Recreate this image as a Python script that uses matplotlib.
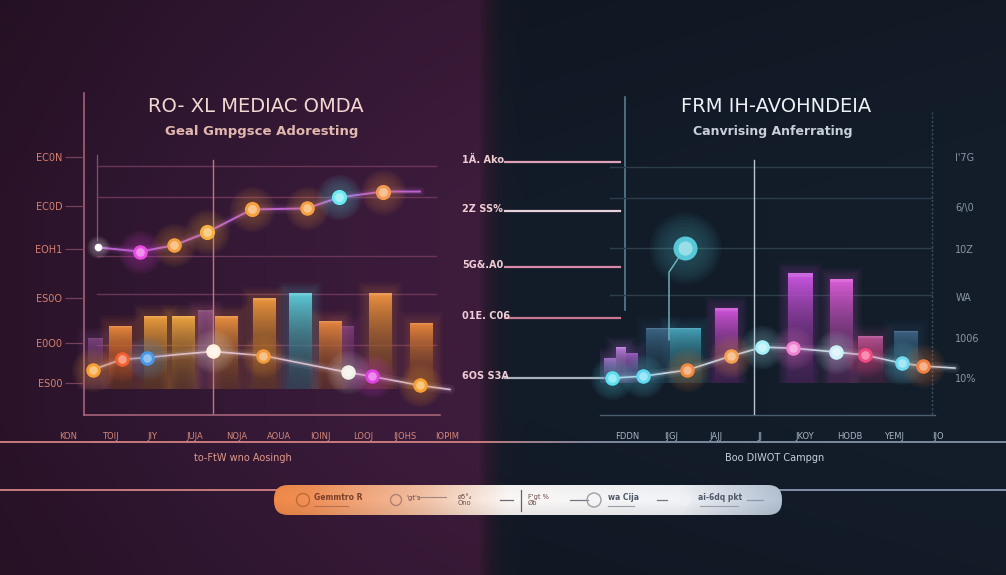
import numpy as np
import matplotlib
matplotlib.use("Agg")
import matplotlib.pyplot as plt
from matplotlib.patches import FancyBboxPatch, Circle
from matplotlib.colors import to_rgb

# ---------------- data ----------------
left_title = "RO- XL MEDIAC OMDA"
left_subtitle = "Geal Gmpgsce Adoresting"
right_title = "FRM IH-AVOHNDEIA"
right_subtitle = "Canvrising Anferrating"
left_xlabel = "to-FtW wno Aosingh"
right_xlabel = "Boo DIWOT Campgn"

left_ytick_vals = [91, 72, 55, 36, 18.4, 2.4]
left_ytick_labels = ["EC0N", "EC0D", "EOH1", "ES0O", "E0O0", "ES00"]
right_ytick_vals = [88.6, 69, 52.5, 33.7, 17.6, 2]
right_ytick_labels = ["I'7G", "6/\\0", "10Z", "WA", "1006", "10%"]
left_xtick_labels = ["KON", "TOIJ", "JIY", "JUJA", "NOJA", "AOUA", "IOINJ", "LOOJ", "IJOHS", "IOPIM"]
right_xtick_labels = ["FDDN", "IJGJ", "JAJJ", "JJ", "JKOY", "HODB", "YEMJ", "IJO"]
mid_labels = ["1\u00c4. Ako", "2Z SS%", "5G&.A0", "01E. C06", "6OS S3A"]

# left chart
left_bar_x = [1.06, 2.04, 2.80, 4.03, 5.07, 6.08, 6.92, 8.32, 9.47]
left_bar_vals = [25, 29, 29, 29, 36, 38, 27, 38, 26]
left_ghost_x = [0.34, 3.42, 7.37]
left_ghost_vals = [20, 31, 25]
left_top_x = [0.42, 1.6, 2.55, 3.47, 4.73, 6.27, 7.17, 8.4, 9.44]
left_top_vals = [55.7, 54.1, 56.5, 61.6, 70.6, 71.0, 75.3, 77.6, 77.6]
left_bot_x = [0.28, 1.09, 1.79, 2.63, 3.64, 5.04, 7.42, 8.1, 9.44, 10.28]
left_bot_vals = [7.8, 11.8, 12.5, 13.7, 14.9, 13.3, 6.7, 5.1, 1.6, 0.0]
left_grid_vals = [87.5, 75.3, 52.2, 37.3, 17.6]

# right chart
right_bar_x = [0.27, 0.63, 0.93, 1.73, 2.54, 3.76, 5.97, 7.19, 8.06, 9.13]
right_bar_vals = [10, 14, 12, 21.6, 21.6, 29.4, 43, 41, 18.4, 20.4]
right_line_x = [0.36, 1.28, 2.6, 3.91, 4.84, 5.76, 7.04, 7.91, 9.01, 9.64, 10.6]
right_line_vals = [2, 2.7, 5.1, 10.6, 14.1, 13.7, 12.2, 11, 7.8, 6.7, 5.9]
right_callout_x = [2.54, 2.06, 2.06]
right_callout_vals = [53, 43.5, 17]
right_grid_vals = [84.7, 72.5, 52.9, 34.5]

# ---------------- styles ----------------
left_bar_colors = ['#f08a3c', '#f6a43e', '#f6aa42', '#f29440', '#f39a3c', '#5fd0dc', '#ee8a40', '#f39640', '#ef8a3e']
left_ghost_colors = ['#a65aa8', '#b86aa8', '#a0509a']
left_top_colors = ['#ffffff', '#e84ce0', '#f4a040', '#f5b040', '#f4a040', '#f5a040', '#6ce8f0', '#f39850', None]
left_top_sizes = [30, 110, 110, 120, 120, 110, 120, 120, 0]
left_bot_colors = ['#f5a030', '#f06030', '#4a98e8', None, '#fff0e0', '#f39a3c', '#f0f0e8', '#e040e0', '#f5a030', None]
right_bar_colors = ['#b070d0', '#c080e0', '#a060c8', '#3e6a8a', '#48a8c0', '#d656e0', '#d058e8', '#e460e0', '#b8559a', '#3e6688']
right_bar_widths = [0.33, 0.28, 0.33, 0.7, 0.9, 0.66, 0.72, 0.66, 0.72, 0.7]
right_line_colors = ['#5ce0f0', '#60d8f0', '#f08a40', '#f5a050', '#a8f0f8', '#f080d0', '#d0f0f8', '#f04880', '#70d8f0', '#f08040', None]

W, H = 1006, 575
fig = plt.figure(figsize=(W / 100, H / 100), dpi=100)

# ---------------- background ----------------
bg = fig.add_axes([0, 0, 1, 1])
bg.set_xlim(0, W)
bg.set_ylim(H, 0)
bg.axis('off')
stops_x = [0, 200, 400, 478, 486, 502, 530, 1006]
stops_c = ['#2a1329', '#331834', '#3b1b3b', '#3d1c3c', '#2a1a2e', '#161b29', '#121b28', '#141e2b']
px = np.arange(W)
cols = np.array([to_rgb(c) for c in stops_c])
row = np.stack([np.interp(px, stops_x, cols[:, k]) for k in range(3)], axis=1)
vy = np.interp(np.arange(H), [0, 200, 420, 575], [0.87, 1.0, 1.0, 0.9])
img = row[None, :, :] * vy[:, None, None]
bg.imshow(np.clip(img, 0, 1), extent=(0, W, H, 0), aspect='auto', zorder=0)


def fig_axes(x0, y0, x1, y1):
    return fig.add_axes([x0 / W, 1 - y1 / H, (x1 - x0) / W, (y1 - y0) / H])


def lighten(c, f=0.6):
    c = np.array(to_rgb(c))
    return tuple(c + (1 - c) * f)


def gradient_bars(ax, xs, vals, colors, widths, alpha_top=0.97, alpha_bot=0.25):
    bars = ax.bar(xs, vals, width=widths, color='none', edgecolor='none', zorder=3)
    for b, c in zip(bars, colors):
        cc = np.array(to_rgb(c))
        # soft glow
        for k in np.linspace(0.6, 0.08, 6):
            ax.bar(b.get_x() + b.get_width() / 2, b.get_height() + k * 7, width=b.get_width() + k,
                   color=c, alpha=0.035, lw=0, zorder=2)
        n = 80
        t = np.linspace(1, 0, n)[:, None]
        rgb = cc[None, :] * (0.35 + 0.65 * t)
        rgb = rgb + (1 - rgb) * 0.12 * (t > 0.97)
        a = alpha_bot + (alpha_top - alpha_bot) * t
        arr = np.concatenate([rgb, a], axis=1)[:, None, :]
        im = ax.imshow(arr, extent=(b.get_x(), b.get_x() + b.get_width(), 0, b.get_height()),
                       origin='upper', aspect='auto', zorder=3)
        im.set_clip_path(b)
    return bars


def glow_line(ax, xs, ys, color, lw=1.4):
    ax.plot(xs, ys, color=color, lw=7, alpha=0.08, zorder=4, solid_capstyle='round', clip_on=False)
    ax.plot(xs, ys, color=color, lw=3.5, alpha=0.15, zorder=4, solid_capstyle='round', clip_on=False)
    ax.plot(xs, ys, color=color, lw=lw, alpha=0.9, zorder=4, solid_capstyle='round', clip_on=False)


def glow_points(ax, xs, ys, colors, sizes=None):
    if sizes is None:
        sizes = [110] * len(xs)
    for x, y, c, core in zip(xs, ys, colors, sizes):
        if c is None or core == 0:
            continue
        for f in np.linspace(9, 2.2, 7):
            ax.scatter(x, y, s=core * f, color=c, alpha=0.04, lw=0, zorder=5, clip_on=False)
        ax.scatter(x, y, s=core, color=c, lw=0, zorder=6, clip_on=False)
        ax.scatter(x, y, s=core * 0.35, color=lighten(c, 0.5), alpha=0.8, lw=0, zorder=7, clip_on=False)


def style_axes(ax):
    ax.set_facecolor('none')
    for s in ax.spines.values():
        s.set_visible(False)


# ---------------- left chart ----------------
axL = fig_axes(60, 150, 460, 415)
style_axes(axL)
axL.spines['left'].set_position(('data', 0))
for g in left_grid_vals:
    axL.plot([0.38, 9.9], [g, g], color='#7a3e60', lw=1.0, alpha=0.8, zorder=1)
gradient_bars(axL, left_ghost_x, left_ghost_vals, left_ghost_colors, 0.42, alpha_top=0.55, alpha_bot=0.12)
gradient_bars(axL, left_bar_x, left_bar_vals, left_bar_colors, 0.64)
glow_line(axL, left_top_x, left_top_vals, '#c86ae0')
glow_points(axL, left_top_x, left_top_vals, left_top_colors, left_top_sizes)
glow_line(axL, left_bot_x, left_bot_vals, '#e8c8d8', lw=1.2)
glow_points(axL, left_bot_x, left_bot_vals, left_bot_colors)
axL.axvline(3.64, 0.008, 0.962, color='#c07878', lw=1.0, zorder=4)
axL.set_xlim((60 - 83) / 35.7, (460 - 83) / 35.7)
axL.set_ylim(-10, 93.9)
axL.set_yticks(left_ytick_vals)
axL.set_yticklabels(left_ytick_labels)
axL.set_xticks(np.linspace(-0.42, 10.2, len(left_xtick_labels)))
axL.set_xticklabels(left_xtick_labels)
axL.tick_params(axis='y', colors='#74405a', length=13, width=0.9, pad=2, labelsize=7, labelcolor='#d98070')
axL.tick_params(axis='x', length=0, pad=12, labelsize=6, labelcolor='#d48878')

# ---------------- right chart ----------------
axR = fig_axes(600, 150, 940, 415)
style_axes(axR)
for g in right_grid_vals:
    axR.plot([0.3, 9.9], [g, g], color='#2c3d4c', lw=1.0, zorder=1)
gradient_bars(axR, right_bar_x, right_bar_vals, right_bar_colors, right_bar_widths)
axR.plot(right_callout_x, right_callout_vals, color='#7ab8c8', lw=1.0, zorder=4)
glow_points(axR, right_callout_x[:1], right_callout_vals[:1], ['#56c8d8'], [300])
glow_line(axR, right_line_x, right_line_vals, '#d8e6f4', lw=1.2)
glow_points(axR, right_line_x, right_line_vals, right_line_colors)
axR.axvline(4.6, 0.0, 0.962, color='#b8c4d0', lw=1.0, zorder=4)
axR.set_xlim(0, (940 - 600) / 33.5)
axR.set_ylim(-12.5, 91.4)
axR.yaxis.tick_right()
axR.set_yticks(right_ytick_vals)
axR.set_yticklabels(right_ytick_labels)
axR.set_xticks(np.linspace(0.8, 10.1, len(right_xtick_labels)))
axR.set_xticklabels(right_xtick_labels)
axR.tick_params(axis='y', colors='#3a4a5a', length=0, pad=11, labelsize=7, labelcolor='#8a96a6')
axR.tick_params(axis='x', length=0, pad=12, labelsize=6, labelcolor='#a8b4c4')

# ---------------- structural decoration (pixel coords) ----------------
lc = '#b06a7e'
bg.plot([84, 84], [93, 415], color=lc, lw=1.1, zorder=2)
bg.plot([97, 97], [155, 240], color='#8a4e6a', lw=0.9, zorder=2)
bg.plot([84, 440], [415, 415], color=lc, lw=1.1, zorder=2)
bg.plot([625, 625], [97, 310], color='#5a8898', lw=1.1, zorder=2)
bg.plot([600, 935], [415, 415], color='#4a5e70', lw=1.0, zorder=2)
bg.plot([932, 932], [112, 415], color='#3e5060', lw=1.0, ls=(0, (1.5, 1.5)), zorder=2)

# middle label lines
mid_y = [162, 211, 267, 318, 378]
mid_cols = ['#e0a0b8', '#e8d0dc', '#d888a8', '#c87890', '#a8b0bc']
for y, t, c in zip(mid_y, mid_labels, mid_cols):
    bg.plot([505, 620], [y, y], color=c, lw=1.6, zorder=2)
    bg.text(462, y - 2, t, color='#f0ccd4', fontsize=7, fontweight='bold', va='center', ha='left',
            family='DejaVu Sans', zorder=3)

# titles
bg.text(256, 107, left_title, color='#f2d8d0', fontsize=14, ha='center', va='center', family='DejaVu Sans')
bg.text(262, 131, left_subtitle, color='#e2b8ae', fontsize=9.5, fontweight='bold', ha='center', va='center',
        family='DejaVu Sans')
bg.text(776, 107, right_title, color='#eef2f6', fontsize=14, ha='center', va='center', family='DejaVu Sans')
bg.text(773, 131, right_subtitle, color='#c8d0da', fontsize=9, fontweight='bold', ha='center', va='center',
        family='DejaVu Sans')

# bottom lines
xs_line = np.linspace(0, W, 400)
seg_c = np.array([np.interp(xs_line, [0, 470, 600, 1006], [a, a, b, b])
                  for a, b in zip(to_rgb('#c87a7c'), to_rgb('#7a8aa0'))]).T
for i in range(len(xs_line) - 1):
    bg.plot(xs_line[i:i + 2], [442, 442], color=seg_c[i], lw=1.4, zorder=2, solid_capstyle='butt')
bg.plot([0, 276], [490, 490], color='#c87a7c', lw=1.4, zorder=2)
bg.plot([780, W], [490, 490], color='#8090a8', lw=1.4, zorder=2)

bg.text(243, 458, left_xlabel, color='#e09a8a', fontsize=7, ha='center', va='center', family='DejaVu Sans')
bg.text(775, 458, right_xlabel, color='#c8d0dc', fontsize=7, ha='center', va='center', family='DejaVu Sans')

# pill legend
pill = FancyBboxPatch((274, 485), 508, 30, boxstyle="round,pad=0,rounding_size=14",
                      facecolor='none', edgecolor='none', zorder=3)
bg.add_patch(pill)
gx = np.linspace(0, 1, 300)
pstops = [0, 0.07, 0.3, 0.46, 0.8, 1.0]
pcols = np.array([to_rgb(c) for c in ['#f08a48', '#f29058', '#f4c4a8', '#fbf8f6', '#f2f4f8', '#b4c2d4']])
prow = np.stack([np.interp(gx, pstops, pcols[:, k]) for k in range(3)], axis=1)
pv = np.interp(np.linspace(0, 1, 30), [0, 0.5, 1], [0.97, 1.0, 0.93])
pimg = prow[None, :, :] * pv[:, None, None]
pim = bg.imshow(np.clip(pimg, 0, 1), extent=(274, 782, 515, 485), aspect='auto', zorder=3)
pim.set_clip_path(pill)
bg.set_xlim(0, W)
bg.set_ylim(H, 0)

tc = '#6a4a48'
bg.add_patch(Circle((303, 500), 6.5, fill=False, ec='#c06a38', lw=1.0, zorder=4))
bg.text(314, 498, "Gemmtro R", color='#7a4028', fontsize=5.5, fontweight='bold', va='center', zorder=4)
bg.plot([314, 348], [506, 506], color='#b87050', lw=0.8, zorder=4)
bg.add_patch(Circle((396, 500), 5.5, fill=False, ec='#b08070', lw=1.0, zorder=4))
bg.text(406, 498, "'gt's", color=tc, fontsize=5, va='center', zorder=4)
bg.plot([417, 446], [497, 497], color='#a08880', lw=0.8, zorder=4)
bg.text(458, 500, "\u00f85\u00b0\u2084\nOno", color=tc, fontsize=4.8, va='center', zorder=4, linespacing=0.9)
bg.plot([500, 513], [500, 500], color='#706870', lw=0.9, zorder=4)
bg.plot([521, 521], [490, 511], color='#606070', lw=0.9, zorder=4)
bg.text(528, 500, "F'gt %\n\u00d8b", color=tc, fontsize=4.8, va='center', zorder=4, linespacing=0.9)
bg.plot([570, 588], [500, 500], color='#707880', lw=0.9, zorder=4)
bg.add_patch(Circle((594, 500), 7, fill=False, ec='#9aa0a8', lw=1.0, zorder=4))
bg.text(608, 498, "wa C\u0133a", color='#505868', fontsize=5.5, fontweight='bold', va='center', zorder=4)
bg.plot([608, 634], [506, 506], color='#98a0ac', lw=0.8, zorder=4)
bg.plot([657, 667], [500, 500], color='#707880', lw=0.9, zorder=4)
bg.add_patch(Circle((685, 500), 6, fill=True, fc='#eef0f4', ec='none', zorder=4))
bg.text(698, 498, "ai-6dq pkt", color='#505868', fontsize=5.5, fontweight='bold', va='center', zorder=4)
bg.plot([700, 738], [506, 506], color='#98a0ac', lw=0.8, zorder=4)
bg.plot([747, 763], [500, 500], color='#8a96a8', lw=0.9, zorder=4)

fig.savefig("out.png", dpi=100, facecolor=fig.get_facecolor())
